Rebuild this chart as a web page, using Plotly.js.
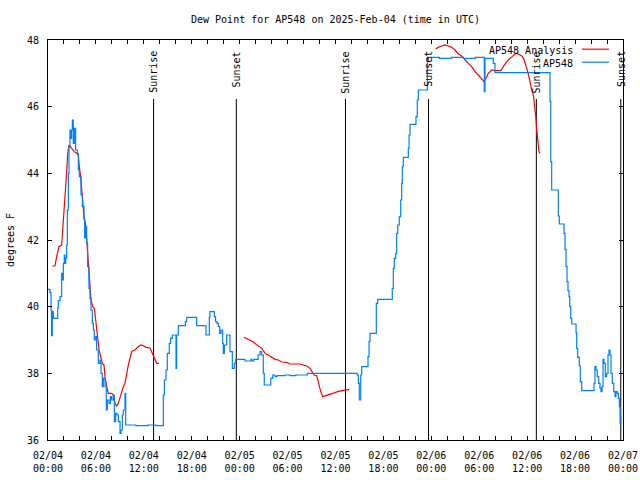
<!DOCTYPE html>
<html>
<head>
<meta charset="utf-8">
<script src="https://cdn.plot.ly/plotly-3.0.1.min.js"></script>
<style>html,body{margin:0;padding:0;background:#fff;}</style>
</head>
<body>
<div id="chart" style="width:640px;height:480px;"></div>
<script>
// Hours since 2025-02-04 00:00 UTC
var stationHours = [0.0,0.25,0.38,0.44,0.54,0.67,1.21,1.29,1.50,1.71,1.77,1.92,2.04,2.13,2.21,2.34,2.42,2.55,2.63,2.75,2.88,2.96,3.05,3.17,3.30,3.46,3.67,3.80,3.92,4.13,4.30,4.51,4.59,4.71,4.84,4.96,5.13,5.26,5.38,5.55,5.68,5.80,5.97,6.09,6.30,6.51,6.64,6.80,6.93,7.14,7.30,7.43,7.64,7.81,7.97,8.18,8.31,8.47,8.64,8.81,9.02,9.14,9.31,9.43,9.64,9.73,11.0,12.5,13.5,14.44,14.57,14.78,14.94,15.19,15.35,15.57,16.03,16.11,16.32,17.20,17.36,18.62,19.78,20.20,20.28,20.83,20.98,21.16,21.33,21.50,21.66,21.87,21.95,22.08,22.37,22.79,23.08,23.33,23.50,24.67,25.42,25.54,25.79,26.30,26.55,26.76,26.96,27.08,27.89,28.14,28.43,28.68,29.68,30.30,31.05,32.47,38.73,38.86,38.98,39.16,39.28,40.07,40.20,40.32,41.11,41.28,43.11,43.24,43.36,43.54,43.66,43.79,43.99,44.16,44.29,44.37,44.49,45.12,45.21,45.33,46.08,46.24,46.37,47.50,49.0,50.5,52.0,53.5,54.63,54.72,55.76,55.97,62.86,62.95,63.07,63.90,64.03,64.61,64.74,64.86,64.99,65.11,65.24,65.33,65.45,65.58,66.12,66.20,66.33,66.53,66.65,66.83,68.37,68.49,68.62,68.78,68.96,69.12,69.25,69.37,69.50,69.62,69.79,69.96,70.12,70.25,70.37,70.50,70.66,70.84,71.00,71.12,71.29,71.42,71.54,71.63,71.72];
var stationDewPoint = [40.52,40.42,39.9,39.13,39.85,39.65,39.96,40.18,40.3,41.0,40.8,41.3,41.55,41.3,41.45,41.85,42.9,44.0,44.8,45.3,45.05,45.3,45.6,44.9,45.35,44.7,44.6,44.1,43.9,43.35,43.0,42.6,42.06,42.4,41.9,41.2,40.55,40.25,39.9,39.5,39.3,39.0,39.1,38.7,38.3,38.4,38.0,37.6,37.85,37.6,36.9,37.2,37.1,37.3,37.2,37.35,36.55,36.8,36.75,36.55,36.2,36.3,36.75,36.9,37.4,36.45,36.43,36.45,36.43,37.35,37.8,38.1,38.6,38.9,39.05,39.15,38.15,39.15,39.43,39.55,39.68,39.43,39.15,39.68,39.85,39.7,39.55,39.5,39.4,39.2,39.3,38.9,38.6,38.85,39.15,38.65,38.15,38.3,38.42,38.37,38.42,38.37,38.42,38.55,38.65,38.55,38.0,37.65,37.85,37.95,37.9,37.93,37.95,37.93,37.95,38.0,37.95,37.7,37.2,37.95,38.2,38.5,38.95,39.2,40.1,40.22,40.55,41.15,41.45,41.6,42.2,42.45,42.7,43.2,43.7,44.2,44.48,44.75,45.15,45.47,45.7,46.2,46.5,47.48,47.45,47.48,47.45,47.48,46.45,47.45,47.3,47.02,46.15,44.35,43.5,42.72,42.48,42.2,41.72,41.2,40.75,40.48,40.3,40.0,39.65,39.48,39.22,38.75,38.48,38.22,37.75,37.48,37.7,38.2,38.1,37.9,37.7,37.55,37.45,37.6,38.42,38.3,37.9,38.0,38.55,38.7,38.55,38.0,37.7,37.45,37.3,37.45,37.4,37.25,37.0,36.5,36.7];

var analysisHours = [0.54,0.88,1.00,1.16,1.38,1.71,1.79,1.92,2.04,2.22,2.34,2.47,2.63,2.97,3.29,3.59,3.79,3.92,4.09,4.30,4.51,4.72,4.88,5.05,5.22,5.38,5.60,5.80,5.97,6.17,6.39,6.60,6.80,7.01,7.14,7.35,7.55,7.98,8.18,8.39,8.60,8.80,9.02,9.23,9.43,9.64,9.85,10.06,10.27,10.48,10.61,10.89,11.31,11.61,11.93,12.27,12.77,12.99,13.19,13.40,13.61,13.90,
  19.0,
  24.54,24.88,25.21,25.63,26.05,26.46,26.76,26.96,27.26,27.59,28.01,28.43,28.84,29.26,29.89,30.30,31.56,31.97,32.39,32.81,33.10,33.31,33.65,33.85,34.15,34.40,34.69,35.10,35.52,35.94,36.35,36.98,37.32,37.73,
  43.0,
  48.55,48.87,49.30,49.71,50.13,50.55,50.96,51.38,51.80,52.22,52.63,53.06,53.47,53.88,54.31,54.60,54.85,55.14,55.56,55.97,56.69,57.01,57.44,57.85,58.27,58.60,58.89,59.32,59.60,59.85,60.07,60.27,60.44,60.57,60.77,60.90,61.08,61.20,61.32,61.48,61.61];
var analysisDewPoint = [41.22,41.22,41.4,41.6,41.8,41.85,42.1,42.6,43.1,43.6,44.05,44.6,44.85,44.75,44.65,44.6,44.55,44.2,43.9,43.3,42.7,42.45,41.95,41.4,40.8,40.2,40.0,39.95,39.6,39.1,38.7,38.5,38.3,38.25,37.9,37.6,37.4,37.4,37.35,37.1,37.02,37.1,37.3,37.5,37.6,37.7,38.0,38.25,38.45,38.65,38.68,38.7,38.8,38.85,38.83,38.78,38.76,38.65,38.52,38.4,38.3,38.3,
  null,
  39.08,39.05,39.0,38.95,38.88,38.82,38.75,38.68,38.58,38.55,38.48,38.42,38.4,38.34,38.33,38.28,38.28,38.26,38.22,38.15,38.05,37.95,37.93,37.7,37.45,37.3,37.32,37.36,37.39,37.42,37.46,37.49,37.52,37.52,
  null,
  47.73,47.78,47.82,47.85,47.82,47.78,47.7,47.58,47.52,47.4,47.3,47.2,47.05,46.95,46.82,46.75,46.85,47.0,47.1,47.08,47.08,47.2,47.35,47.45,47.55,47.6,47.58,47.52,47.42,47.25,47.05,46.85,46.6,46.5,46.35,46.1,45.7,45.3,45.0,44.65,44.6];

var sunEventHours = [13.22, 23.58, 37.25, 47.65, 61.15, 71.72];
var sunEventLabels = ["Sunrise", "Sunset", "Sunrise", "Sunset", "Sunrise", "Sunset"];

var seriesNames = ["AP548 Analysis", "AP548"];
var yTickValues = [36, 38, 40, 42, 44, 46, 48];

var startMs = Date.UTC(2025, 1, 4, 0, 0, 0);
function toDate(h) {
  var d = new Date(startMs + Math.round(h * 3600000));
  return d.toISOString().slice(0, 19).replace('T', ' ');
}
var font = "DejaVu Sans Mono, Liberation Mono, monospace";

var traces = [
  {
    x: analysisHours.map(toDate), y: analysisDewPoint, type: 'scatter', mode: 'lines',
    name: seriesNames[0], line: {color: '#ff0000', width: 1.2, shape: 'linear'}, connectgaps: false
  },
  {
    x: stationHours.map(toDate), y: stationDewPoint, type: 'scatter', mode: 'lines',
    name: seriesNames[1], line: {color: '#0080ff', width: 1.2, shape: 'hv'}
  }
];

var shapes = sunEventHours.map(function (h) {
  return {type: 'line', xref: 'x', yref: 'paper', x0: toDate(h), x1: toDate(h), y0: 0, y1: 0.8525,
          line: {color: '#000', width: 1}, layer: 'below'};
});
var annotations = sunEventHours.map(function (h, i) {
  return {text: sunEventLabels[i], xref: 'x', yref: 'paper', x: toDate(h), y: 0.977,
          xanchor: 'center', yanchor: 'top', textangle: -90, showarrow: false,
          font: {family: font, size: 10, color: '#000'}};
});
// legend (gnuplot style: text then sample line)
var legendColors = ['#ff0000', '#0080ff'];
var legendY = [0.975, 0.9425];
seriesNames.forEach(function (n, i) {
  annotations.push({text: n, xref: 'paper', yref: 'paper', x: 0.9165, y: legendY[i],
    xanchor: 'right', yanchor: 'middle', showarrow: false, font: {family: font, size: 10, color: '#000'}});
  shapes.push({type: 'line', xref: 'paper', yref: 'paper', x0: 0.9287, x1: 0.9757,
    y0: legendY[i] + 0.002, y1: legendY[i] + 0.002, line: {color: legendColors[i], width: 1.2}});
});

var layout = {
  width: 640, height: 480,
  margin: {l: 48, r: 17, t: 40, b: 40, pad: 0},
  paper_bgcolor: '#fff', plot_bgcolor: '#fff',
  font: {family: font, size: 10, color: '#000'},
  showlegend: false,
  title: {text: 'Dew Point for AP548 on 2025-Feb-04 (time in UTC)', x: 0.5, xref: 'paper',
          y: 1 - 19 / 480, yref: 'container', yanchor: 'middle', font: {family: font, size: 10, color: '#000'}},
  xaxis: {
    type: 'date', range: [toDate(0), toDate(72)], autorange: false,
    tick0: toDate(0), dtick: 6 * 3600000, tickformat: '%m/%d<br>%H:%M',
    ticks: 'inside', ticklen: 4, tickcolor: '#000', tickwidth: 1,
    showline: true, linecolor: '#000', linewidth: 1, mirror: 'allticks',
    showgrid: false, zeroline: false, ticklabelstandoff: 6,
    minor: {dtick: 2 * 3600000, ticks: 'inside', ticklen: 4, tickcolor: '#000', showgrid: false},
    tickfont: {family: font, size: 10, color: '#000'}
  },
  yaxis: {
    range: [36, 48], autorange: false, tickvals: yTickValues,
    ticks: 'inside', ticklen: 4, tickcolor: '#000', tickwidth: 1,
    showline: true, linecolor: '#000', linewidth: 1, mirror: 'allticks',
    showgrid: false, zeroline: false, ticklabelstandoff: 6,
    title: {text: 'degrees F', standoff: 10, font: {family: font, size: 10, color: '#000'}},
    tickfont: {family: font, size: 10, color: '#000'}
  },
  shapes: shapes,
  annotations: annotations
};

Plotly.newPlot('chart', traces, layout, {staticPlot: true, displayModeBar: false});
</script>
</body>
</html>
